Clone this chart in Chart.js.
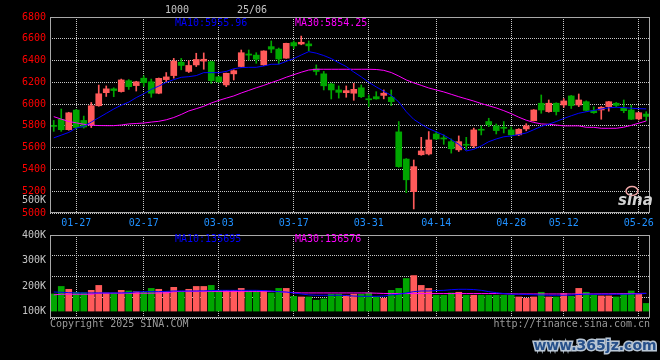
<!DOCTYPE html>
<html>
<head>
<meta charset="utf-8">
<script src="https://cdn.jsdelivr.net/npm/chart.js@4.4.1/dist/chart.umd.min.js"></script>
<style>
  html, body { margin: 0; padding: 0; background: #000; }
  #wrap { position: relative; width: 660px; height: 360px; overflow: hidden; background: #000; }
  #kline { position: absolute; left: 0; top: 0; }
  #vol { position: absolute; left: 0; top: 225px; }
</style>
</head>
<body>
<div id="wrap">
  <canvas id="kline" width="660" height="232" style="width:660px;height:232px"></canvas>
  <canvas id="vol" width="660" height="135" style="width:660px;height:135px"></canvas>
</div>
<script>
// Trading days shown on the chart
const dates = ['01-22','01-23','01-24','01-27','02-05','02-06','02-07','02-10','02-11','02-12',
  '02-13','02-14','02-17','02-18','02-19','02-20','02-21','02-24','02-25','02-26',
  '02-27','02-28','03-03','03-04','03-05','03-06','03-07','03-10','03-11','03-12',
  '03-13','03-14','03-17','03-18','03-19','03-20','03-21','03-24','03-25','03-26',
  '03-27','03-28','03-31','04-01','04-02','04-03','04-07','04-08','04-09','04-10',
  '04-11','04-14','04-15','04-16','04-17','04-18','04-21','04-22','04-23','04-24',
  '04-25','04-28','04-29','04-30','05-06','05-07','05-08','05-09','05-12','05-13',
  '05-14','05-15','05-16','05-19','05-20','05-21','05-22','05-23','05-26','05-27'];

// Dates that get a label and a vertical grid line
const dateTicks = ['01-27','02-17','03-03','03-17','03-31','04-14','04-28','05-12','05-26'];

const opens = [5805,5860,5765,5945,5850,5810,5985,6105,6140,6115,
  6215,6170,6238,6205,6100,6225,6262,6385,6300,6360,
  6395,6390,6250,6176,6278,6345,6460,6450,6360,6528,
  6505,6422,6565,6552,6553,6323,6278,6185,6130,6105,
  6100,6150,6048,6068,6080,6063,5745,5495,5196,5535,
  5542,5726,5690,5655,5580,5630,5616,5768,5840,5800,
  5785,5763,5718,5772,5848,6008,5931,6008,5992,6075,
  5992,6022,5940,5946,5977,6008,5962,5946,5864,5909];
const closes = [5795,5765,5920,5785,5790,5985,6095,6140,6125,6222,
  6160,6205,6197,6100,6237,6250,6395,6355,6355,6410,
  6412,6215,6205,6283,6307,6472,6450,6412,6488,6505,
  6415,6558,6535,6568,6535,6300,6168,6130,6108,6124,
  6136,6068,6040,6048,6100,6023,5426,5305,5426,5570,
  5671,5680,5680,5590,5655,5622,5763,5760,5810,5757,
  5778,5718,5769,5800,5946,5946,6008,5931,6029,5986,
  6038,5942,5921,5971,6022,5988,5940,5861,5921,5887];
const highs = [5850,5955,5925,5950,5890,6015,6175,6167,6150,6230,
  6225,6210,6260,6230,6240,6290,6420,6420,6400,6467,
  6470,6395,6255,6285,6315,6497,6497,6472,6490,6580,
  6515,6560,6580,6625,6580,6360,6300,6192,6167,6167,
  6191,6176,6084,6114,6130,6130,5840,5500,5487,5695,
  5748,5750,5717,5680,5708,5695,5780,5800,5870,5818,
  5840,5790,5775,5820,5950,6084,6038,6012,6050,6080,
  6093,6030,5975,5977,6025,6015,6038,5990,5925,5930];
const lows = [5750,5750,5760,5770,5780,5785,5980,6070,6068,6110,
  6135,6120,6160,6063,6095,6205,6238,6315,6290,6345,
  6320,6190,6200,6160,6222,6340,6405,6375,6355,6472,
  6370,6420,6510,6545,6490,6268,6130,6047,6055,6063,
  6035,6060,5977,6045,6048,5986,5420,5187,5037,5530,
  5533,5675,5631,5550,5565,5580,5600,5717,5793,5726,
  5735,5700,5710,5755,5845,5916,5925,5900,5970,5960,
  5977,5935,5915,5861,5935,5975,5921,5858,5855,5848];

// Moving averages as drawn on the price panel
const ma10 = [5690,5715,5740,5780,5795,5835,5875,5915,5955,5990,
  6018,6060,6095,6135,6165,6200,6225,6246,6252,6262,
  6289,6289,6289,6300,6325,6335,6338,6338,6350,6366,
  6366,6393,6418,6451,6482,6468,6446,6418,6380,6345,
  6295,6250,6200,6158,6118,6080,6020,5930,5860,5815,
  5775,5745,5715,5675,5630,5570,5585,5616,5655,5680,
  5700,5708,5720,5735,5765,5795,5816,5840,5868,5893,
  5916,5930,5942,5955,5966,5971,5968,5962,5958,5956];
const ma30 = [5885,5862,5840,5828,5815,5807,5803,5802,5802,5808,
  5818,5822,5826,5835,5842,5856,5877,5905,5937,5958,
  5980,6010,6034,6055,6075,6102,6126,6150,6172,6197,
  6220,6247,6270,6293,6313,6320,6320,6320,6320,6320,
  6320,6320,6320,6318,6310,6290,6258,6222,6195,6172,
  6148,6130,6112,6090,6068,6048,6028,6005,5985,5965,
  5940,5912,5880,5852,5832,5818,5815,5808,5800,5800,
  5800,5787,5787,5778,5778,5778,5788,5805,5825,5845];

const volumes = [132000,190000,168000,145000,142000,160000,198000,140000,140000,160000,
  155000,150000,145000,175000,168000,150000,183000,150000,168000,190000,
  190000,198000,160000,160000,160000,175000,155000,155000,155000,140000,
  175000,175000,114000,109000,109000,84000,94000,130000,130000,122000,
  130000,130000,140000,109000,99000,160000,175000,251000,274000,198000,
  175000,122000,122000,140000,145000,122000,122000,122000,122000,122000,
  122000,122000,109000,99000,109000,145000,109000,109000,135000,114000,
  175000,145000,122000,117000,117000,109000,135000,155000,135000,59000];
const volMa10 = [147000,145000,142000,140000,140000,140000,140000,140000,140000,140000,
  142000,148000,150000,150000,150000,152000,155000,155000,155000,155000,
  156000,158000,160000,160000,160000,160000,160000,160000,158000,155000,
  150000,147000,140000,132000,125000,122000,122000,122000,122000,120000,
  116000,114000,114000,114000,116000,125000,130000,140000,150000,155000,
  155000,158000,160000,165000,168000,168000,166000,160000,150000,142000,
  135000,130000,130000,128000,126000,124000,122000,122000,122000,124000,
  128000,130000,130000,130000,130000,130000,130000,131000,133000,136000];
const volMa30 = [125000,130000,130000,130000,130000,130000,138000,138000,138000,138000,
  138000,138000,138000,138000,140000,140000,150000,152000,152000,152000,
  152000,152000,152000,152000,152000,152000,152000,152000,152000,152000,
  150000,145000,142000,140000,140000,140000,140000,140000,140000,140000,
  140000,140000,140000,138000,136000,135000,135000,135000,135000,135000,
  135000,135000,135000,135000,135000,135000,135000,135000,135000,135000,
  134000,133000,132000,132000,132000,132000,132000,132000,132000,132000,
  132000,132000,132000,133000,133000,134000,134000,135000,136000,137000];

const priceTicks = { min: 5000, max: 6800, step: 200 };
const volLabelTicks = [100000, 200000, 300000, 400000];
const priceLegend = ['MA10:5955.96', 'MA30:5854.25'];
const volLegend = ['MA10:135695', 'MA30:136576'];

// Styles
const UP = '#ff5a5a';
const DOWN = '#00a600';
const GRID = '#c8c8c8';
const FRAME = '#a8a8a8';
const MONO = 'DejaVu Sans Mono';
const VOL_STEP = 160000;

const candleColors = closes.map((c, i) => c >= opens[i] ? UP : DOWN);

function drawText(ctx, str, x, y, color, align, font) {
    ctx.save();
    ctx.font = font || '10px "' + MONO + '"';
    ctx.fillStyle = color;
    ctx.textAlign = align || 'left';
    ctx.textBaseline = 'middle';
    ctx.fillText(str, x, y);
    ctx.restore();
}

const framePlugin = {
    id: 'frame',
    afterDraw(chart) {
        const ctx = chart.ctx;
        const a = chart.chartArea;
        ctx.save();
        ctx.strokeStyle = FRAME;
        ctx.lineWidth = 1;
        ctx.strokeRect(Math.round(a.left) + 0.5, Math.round(a.top) + 0.5,
            Math.round(a.right - a.left) - 1, Math.round(a.bottom - a.top) - 1);
        ctx.restore();
    }
};

function dateAxis(showLabels) {
    return {
        offset: true,
        grid: {
            offset: false,
            drawTicks: false,
            color: ctx => dateTicks.includes(dates[ctx.index]) ? GRID : 'transparent'
        },
        border: { display: false, dash: [1, 1] },
        ticks: {
            display: showLabels,
            autoSkip: false,
            maxRotation: 0,
            padding: 4,
            color: '#2090ff',
            font: { family: MONO, size: 10 },
            callback: (v, i) => dateTicks.includes(dates[i]) ? dates[i] : ''
        },
        afterFit: s => { s.height = showLabels ? 19 : 0; }
    };
}

// Price panel
new Chart(document.getElementById('kline'), {
    type: 'bar',
    data: {
        labels: dates,
        datasets: [
            { type: 'line', data: ma10, borderColor: '#0000ff', borderWidth: 1, pointRadius: 0, order: 0 },
            { type: 'line', data: ma30, borderColor: '#ff00ff', borderWidth: 1, pointRadius: 0, order: 0 },
            { data: dates.map((d, i) => [opens[i], closes[i]]), backgroundColor: candleColors,
              barThickness: 6, minBarLength: 1, grouped: false, order: 1 },
            { data: dates.map((d, i) => [lows[i], highs[i]]), backgroundColor: candleColors,
              barThickness: 1, grouped: false, order: 2 }
        ]
    },
    options: {
        responsive: false,
        animation: false,
        devicePixelRatio: 1,
        layout: { padding: { top: 17, right: 10, left: 0, bottom: 0 } },
        plugins: { legend: { display: false }, tooltip: { enabled: false } },
        scales: {
            x: dateAxis(true),
            y: {
                min: priceTicks.min,
                max: priceTicks.max,
                ticks: {
                    stepSize: priceTicks.step, color: '#ff0000', padding: 4,
                    font: { family: MONO, size: 10 },
                    callback: v => String(v)
                },
                grid: { color: GRID, drawTicks: false },
                border: { display: false, dash: [1, 1] },
                afterFit: s => { s.width = 50; }
            }
        }
    },
    plugins: [framePlugin, {
        id: 'priceTexts',
        afterDraw(chart) {
            const ctx = chart.ctx;
            drawText(ctx, '1000', 165, 10, '#c4c4c4');
            drawText(ctx, '25/06', 237, 10, '#c4c4c4');
            drawText(ctx, priceLegend[0], 175, 23, '#0000ff');
            drawText(ctx, priceLegend[1], 295, 23, '#ff00ff');
            drawText(ctx, '500K', 46, 200, '#c4c4c4', 'right');
            // sina logo watermark
            ctx.save();
            ctx.strokeStyle = '#f0a8a8';
            ctx.lineWidth = 1.5;
            ctx.beginPath();
            ctx.ellipse(632, 191, 6, 4.5, 0, 0, Math.PI * 2);
            ctx.stroke();
            ctx.restore();
            drawText(ctx, 'sina', 618, 201, '#d4d4d4', 'left', 'italic bold 15px "DejaVu Sans"');
        }
    }]
});

// Volume panel
new Chart(document.getElementById('vol'), {
    type: 'bar',
    data: {
        labels: dates,
        datasets: [
            { type: 'line', data: volMa10, yAxisID: 'y', borderColor: '#0000ff', borderWidth: 1, pointRadius: 0, order: 0 },
            { type: 'line', data: volMa30, yAxisID: 'y', borderColor: '#ff00ff', borderWidth: 1, pointRadius: 0, order: 0 },
            { data: volumes, yAxisID: 'y', backgroundColor: candleColors, barThickness: 6, order: 1 }
        ]
    },
    options: {
        responsive: false,
        animation: false,
        devicePixelRatio: 1,
        layout: { padding: { top: 9, right: 10, left: 0, bottom: 42 } },
        plugins: { legend: { display: false }, tooltip: { enabled: false } },
        scales: {
            x: dateAxis(false),
            y: {
                type: 'linear',
                min: -VOL_STEP / 3,
                max: 11 * VOL_STEP / 3,
                afterBuildTicks: ax => { ax.ticks = [0, 1, 2, 3, 4].map(k => ({ value: -VOL_STEP / 3 + k * VOL_STEP })); },
                ticks: { display: false },
                grid: { color: GRID, drawTicks: false },
                border: { display: false, dash: [1, 1] },
                afterFit: s => { s.width = 0; }
            },
            yl: {
                type: 'linear',
                position: 'left',
                min: 75000,
                max: 400000,
                afterBuildTicks: ax => { ax.ticks = volLabelTicks.map(v => ({ value: v })); },
                ticks: { color: '#c4c4c4', padding: 4, font: { family: MONO, size: 10 }, callback: v => (v / 1000) + 'K' },
                grid: { display: false, drawTicks: false },
                border: { display: false },
                afterFit: s => { s.width = 50; }
            }
        }
    },
    plugins: [framePlugin, {
        id: 'volTexts',
        afterDraw(chart) {
            const ctx = chart.ctx;
            drawText(ctx, volLegend[0], 175, 14, '#0000ff');
            drawText(ctx, volLegend[1], 295, 14, '#ff00ff');
            drawText(ctx, 'Copyright 2025 SINA.COM', 50, 99, '#9a9a9a');
            drawText(ctx, 'http://finance.sina.com.cn', 650, 99, '#9a9a9a', 'right');
            // site watermark
            ctx.save();
            ctx.font = 'bold 14px "DejaVu Sans"';
            ctx.textAlign = 'center';
            ctx.textBaseline = 'middle';
            ctx.lineWidth = 3;
            ctx.strokeStyle = '#b9c6d4';
            ctx.strokeText('www.365jz.com', 595, 121);
            ctx.fillStyle = '#27508a';
            ctx.fillText('www.365jz.com', 595, 121);
            ctx.restore();
        }
    }]
});
</script>
</body>
</html>
